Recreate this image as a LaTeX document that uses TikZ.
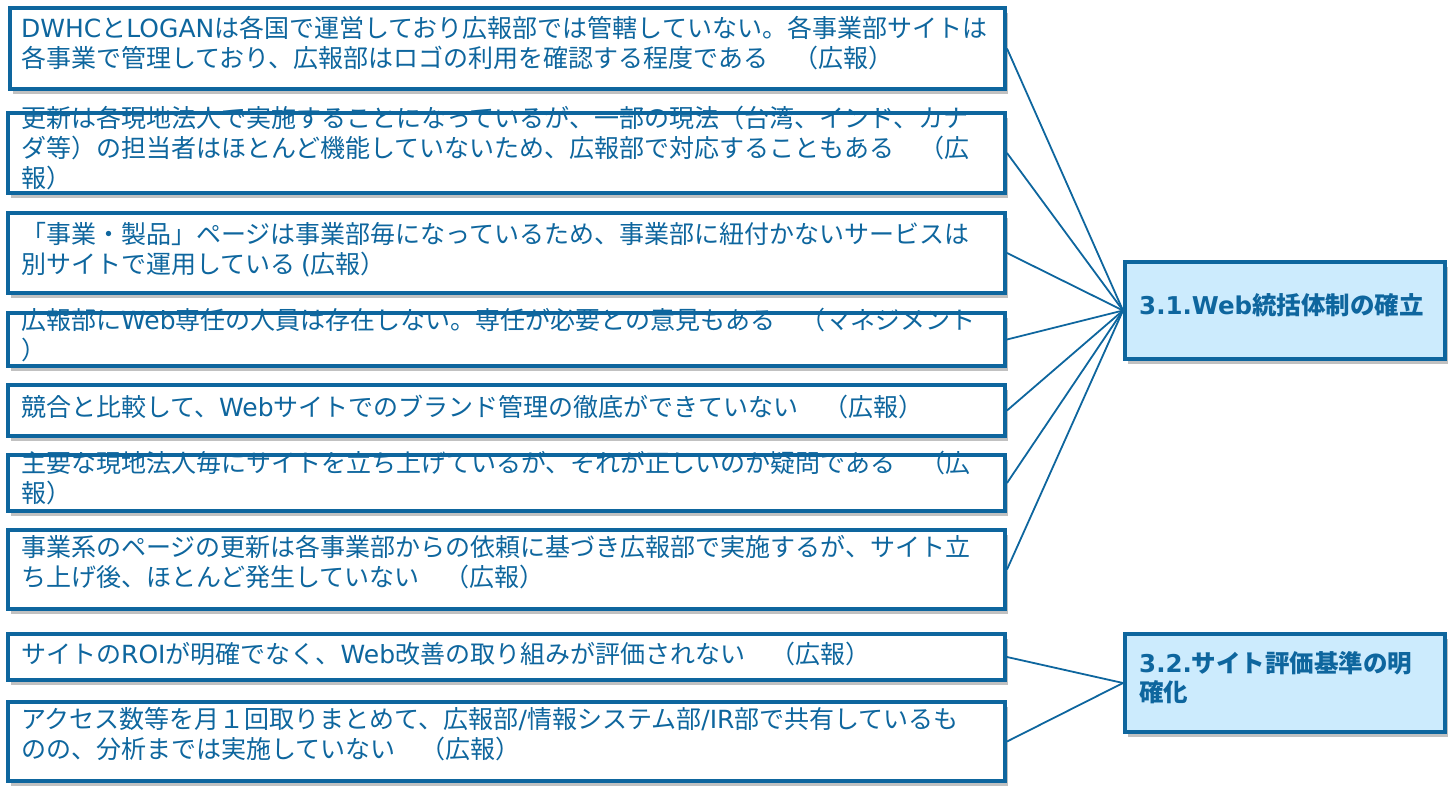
\documentclass[tikz,border=0pt]{standalone}
\usepackage{fontspec}
\setmainfont{Noto Sans CJK JP}
\newfontfamily\latf{DejaVu Sans}
\newcommand{\ltn}[1]{{\latf #1}}
\usetikzlibrary{shadows}
\definecolor{mb}{HTML}{0E669E}
\definecolor{lb}{HTML}{CCEBFD}
\newcommand{\txt}[1]{\parbox[t]{1100pt}{\fontsize{25}{30}\selectfont\raggedright #1}}
\begin{document}
\begin{tikzpicture}[x=1pt,y=-1pt,
  box/.style={rectangle,draw=mb,line width=4pt,fill=white,inner sep=0pt,anchor=north west,
    drop shadow={shadow xshift=3pt,shadow yshift=-5pt,opacity=0.35,fill=black!70}},
  rbox/.style={box,fill=lb,minimum width=320pt},
  lbl/.style={anchor=base west,inner sep=0pt,text=mb},
  conn/.style={draw=mb,line width=1.8pt}]
\useasboundingbox (0,0) rectangle (1456,797);
% left boxes
\node[box,minimum width=995pt,minimum height=81pt] (b1) at (8,6) {};
\node[box,minimum width=997pt,minimum height=80pt] (b2) at (6,111) {};
\node[box,minimum width=997pt,minimum height=80pt] (b3) at (6,211) {};
\node[box,minimum width=997pt,minimum height=53pt] (b4) at (6,311) {};
\node[box,minimum width=997pt,minimum height=51pt] (b5) at (6,383) {};
\node[box,minimum width=997pt,minimum height=56pt] (b6) at (6,453) {};
\node[box,minimum width=997pt,minimum height=79pt] (b7) at (6,528) {};
\node[box,minimum width=997pt,minimum height=46pt] (b8) at (6,632) {};
\node[box,minimum width=997pt,minimum height=79pt] (b9) at (6,700) {};
% right boxes
\node[rbox,minimum height=97pt] (r1) at (1123,260) {};
\node[rbox,minimum height=98pt] (r2) at (1123,632) {};
% texts
\node[lbl] (t1) at (21,38) {\txt{\ltn{DWHC}と\ltn{LOGAN}は各国で運営しており広報部では管轄していない。各事業部サイトは\\各事業で管理しており、広報部はロゴの利用を確認する程度である　（広報）}};
\node[lbl] (t2) at (21,128) {\txt{更新は各現地法人で実施することになっているが、一部の現法（台湾、インド、カナ\\ダ等）の担当者はほとんど機能していないため、広報部で対応することもある　（広\\報）}};
\node[lbl] (t3) at (21,243) {\txt{「事業・製品」ページは事業部毎になっているため、事業部に紐付かないサービスは\\別サイトで運用している \ltn{(}広報）}};
\node[lbl] (t4) at (21,329) {\txt{広報部に\ltn{Web}専任の人員は存在しない。専任が必要との意見もある　（マネジメント\\）}};
\node[lbl] (t5) at (21,416) {\txt{競合と比較して、\ltn{Web}サイトでのブランド管理の徹底ができていない　（広報）}};
\node[lbl] (t6) at (21,472) {\txt{主要な現地法人毎にサイトを立ち上げているが、それが正しいのか疑問である　（広\\報）}};
\node[lbl] (t7) at (21,556) {\txt{事業系のページの更新は各事業部からの依頼に基づき広報部で実施するが、サイト立\\ち上げ後、ほとんど発生していない　（広報）}};
\node[lbl] (t8) at (21,663) {\txt{サイトの\ltn{ROI}が明確でなく、\ltn{Web}改善の取り組みが評価されない　（広報）}};
\node[lbl] (t9) at (21,728) {\txt{アクセス数等を月１回取りまとめて、広報部\ltn{/}情報システム部\ltn{/IR}部で共有しているも\\のの、分析までは実施していない　（広報）}};
\node[lbl,font=\bfseries] (s1) at (1139,314) {\parbox[t]{300pt}{\fontsize{24.5}{29}\selectfont\bfseries\raggedright {\latf\bfseries 3.1.Web}統括体制の確立}};
\node[lbl,font=\bfseries] (s2) at (1139,672) {\parbox[t]{300pt}{\fontsize{24.5}{29}\selectfont\bfseries\raggedright {\latf\bfseries 3.2.}サイト評価基準の明\\確化}};
% connectors
\foreach \i in {1,...,7} \draw[conn] (b\i.east) -- (r1.west);
\draw[conn] (b8.east) -- (r2.west);
\draw[conn] (b9.east) -- (r2.west);
\end{tikzpicture}
\end{document}
